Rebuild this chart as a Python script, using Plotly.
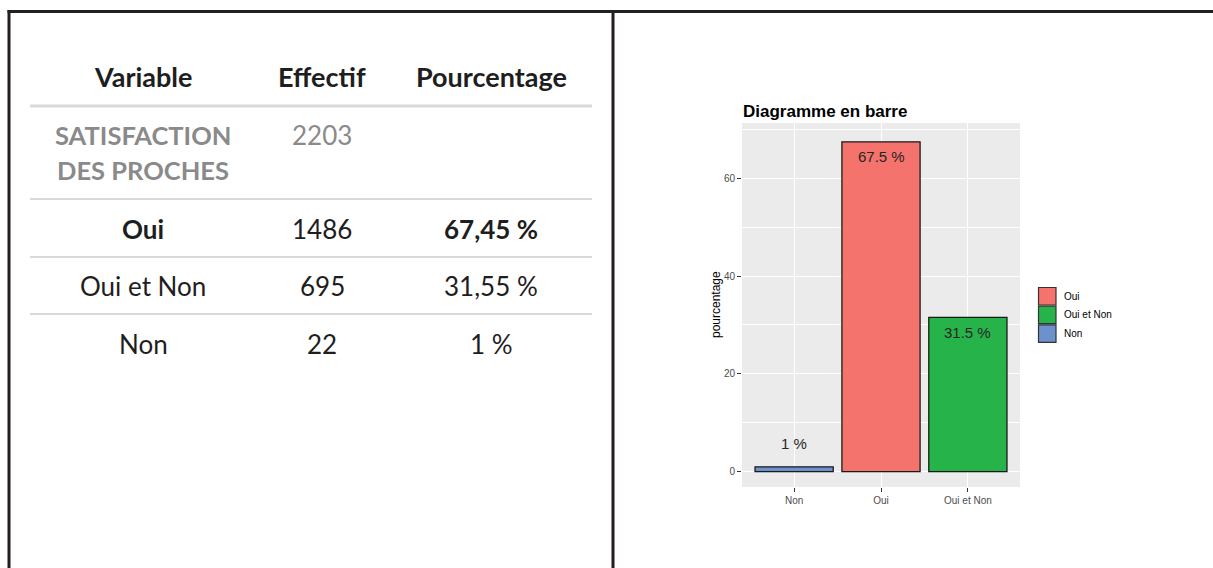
import plotly.graph_objects as go

W, H = 1213, 568

# ---------------- table data ----------------
table_header = ["Variable", "Effectif", "Pourcentage"]
table_group = ["SATISFACTION", "DES PROCHES"]
table_group_total = "2203"
table_modalites = ["Oui", "Oui et Non", "Non"]
table_effectifs = [1486, 695, 22]
table_pourcentages = ["67,45 %", "31,55 %", "1 %"]
table_bold_rows = ["Oui"]

# ---------------- chart data ----------------
categories = ["Non", "Oui", "Oui et Non"]
pourcentages = [1.0, 67.45, 31.55]
bar_labels = ["1 %", "67.5 %", "31.5 %"]
bar_colors = {"Non": "#6D91CD", "Oui": "#F4736C", "Oui et Non": "#26B34A"}
legend_order = ["Oui", "Oui et Non", "Non"]
y_ticks = [0, 20, 40, 60]
y_minor = [10, 30, 50, 70]
chart_title = "Diagramme en barre"
y_title = "pourcentage"


def X(px):
    return px / W


def Y(py):
    return 1 - py / H


TABLE_FONT = "Lato"
CHART_FONT = "Liberation Sans, Arial, sans-serif"
DARK = "#1E1E1E"
GRAY = "#8A8A8A"

fig = go.Figure()

fig.add_trace(go.Bar(
    x=categories,
    y=pourcentages,
    marker=dict(color=[bar_colors[c] for c in categories],
                line=dict(color="#1A1A1A", width=1.3)),
    width=0.9,
    showlegend=False,
    hoverinfo="x+y",
))

annotations = []
shapes = []

# bar value labels
for c, v, lab in zip(categories, pourcentages, bar_labels):
    annotations.append(dict(
        x=c, y=v, xref="x", yref="y", text=lab, showarrow=False,
        yanchor="middle", yshift=(-15 if v > 10 else 23),
        font=dict(family=CHART_FONT, size=15, color="#262626"),
    ))

# chart title
annotations.append(dict(
    x=X(741), y=Y(111.5), xref="paper", yref="paper", xanchor="left",
    yanchor="middle", text="<b>" + chart_title + "</b>", showarrow=False,
    font=dict(family=CHART_FONT, size=17, color="#000000"),
))

# y axis title
annotations.append(dict(
    x=X(716), y=Y(305), xref="paper", yref="paper", xanchor="center",
    yanchor="middle", text=y_title, textangle=-90, showarrow=False,
    font=dict(family=CHART_FONT, size=12, color="#000000"),
))

# manual legend (ggplot-like square keys)
key_top = 287.5
key_pitch = 18.7
key_size = 17.5
for i, name in enumerate(legend_order):
    t = key_top + i * key_pitch
    shapes.append(dict(
        type="rect", xref="paper", yref="paper",
        x0=X(1038.5), x1=X(1038.5 + key_size), y0=Y(t), y1=Y(t + key_size),
        fillcolor=bar_colors[name], line=dict(color="#333333", width=1.2),
    ))
    annotations.append(dict(
        x=X(1062), y=Y(t + key_size / 2), xref="paper", yref="paper",
        xanchor="left", yanchor="middle", text=name, showarrow=False,
        font=dict(family=CHART_FONT, size=10, color="#000000"),
    ))

# ---------------- table ----------------
col_x = [143, 322, 491]
header_y = 77
for cx, txt in zip(col_x, table_header):
    annotations.append(dict(
        x=X(cx), y=Y(header_y), xref="paper", yref="paper",
        xanchor="center", yanchor="middle", text="<b>" + txt + "</b>",
        showarrow=False, font=dict(family=TABLE_FONT, size=27, color=DARK),
    ))

group_y = [135, 170]
for gy, txt in zip(group_y, table_group):
    annotations.append(dict(
        x=X(col_x[0]), y=Y(gy), xref="paper", yref="paper",
        xanchor="center", yanchor="middle", text="<b>" + txt + "</b>",
        showarrow=False, font=dict(family=TABLE_FONT, size=25.5, color=GRAY),
    ))
annotations.append(dict(
    x=X(col_x[1]), y=Y(group_y[0]), xref="paper", yref="paper",
    xanchor="center", yanchor="middle", text=table_group_total,
    showarrow=False, font=dict(family=TABLE_FONT, size=26, color=GRAY),
))

row_y = [229, 286, 344]
for ry, mod, eff, pct in zip(row_y, table_modalites, table_effectifs, table_pourcentages):
    bold = mod in table_bold_rows
    cells = [("<b>%s</b>" % mod) if bold else mod,
             str(eff),
             ("<b>%s</b>" % pct) if bold else pct]
    for cx, txt in zip(col_x, cells):
        annotations.append(dict(
            x=X(cx), y=Y(ry), xref="paper", yref="paper",
            xanchor="center", yanchor="middle", text=txt, showarrow=False,
            font=dict(family=TABLE_FONT, size=26, color=DARK),
        ))

# table separators
sep_specs = [(106, 3), (199, 2), (257, 2), (314, 2)]
for sy, w in sep_specs:
    shapes.append(dict(
        type="line", xref="paper", yref="paper",
        x0=X(30), x1=X(592), y0=Y(sy), y1=Y(sy),
        line=dict(color="#D9D9D9", width=w),
    ))

# outer frame lines
BORDER = "#231F20"
shapes.append(dict(type="line", xref="paper", yref="paper",
                   x0=X(7.5), x1=X(1213), y0=Y(11.5), y1=Y(11.5),
                   line=dict(color=BORDER, width=3)))
shapes.append(dict(type="line", xref="paper", yref="paper",
                   x0=X(9), x1=X(9), y0=Y(10), y1=Y(568),
                   line=dict(color=BORDER, width=3)))
shapes.append(dict(type="line", xref="paper", yref="paper",
                   x0=X(613), x1=X(613), y0=Y(10), y1=Y(568),
                   line=dict(color=BORDER, width=3)))

fig.update_layout(
    width=W, height=H,
    margin=dict(l=0, r=0, t=0, b=0),
    paper_bgcolor="white",
    plot_bgcolor="#EBEBEB",
    showlegend=False,
    annotations=annotations,
    shapes=shapes,
    xaxis=dict(
        domain=[X(742), X(1020)],
        type="category",
        categoryorder="array", categoryarray=categories,
        range=[-0.6, 2.6],
        showgrid=True, gridcolor="white", gridwidth=1.1,
        ticks="outside", ticklen=4, tickwidth=1, tickcolor="#333333",
        tickfont=dict(family=CHART_FONT, size=10, color="#4D4D4D"),
        zeroline=False, showline=False, fixedrange=True,
    ),
    yaxis=dict(
        domain=[Y(487), Y(123)],
        range=[-3.13, 71.3],
        tickvals=y_ticks,
        showgrid=True, gridcolor="white", gridwidth=1.1,
        minor=dict(tickvals=y_minor, showgrid=True, gridcolor="white",
                   gridwidth=0.6, ticks=""),
        ticks="outside", ticklen=4, tickwidth=1, tickcolor="#333333",
        tickfont=dict(family=CHART_FONT, size=10, color="#4D4D4D"),
        zeroline=False, showline=False, fixedrange=True,
    ),
)

fig.write_html(
    "out.html",
    config={"displayModeBar": False},
    post_script="document.body.style.margin='0px';"
                "document.body.style.padding='0px';"
                "document.body.style.overflow='hidden';",
)
